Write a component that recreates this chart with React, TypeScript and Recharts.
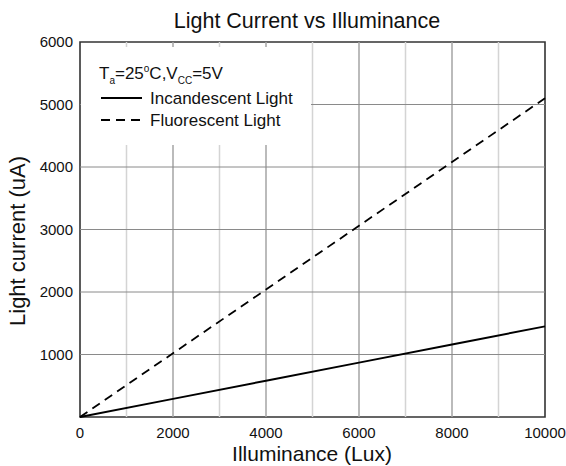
import React from 'react';
import { LineChart, Line, XAxis, YAxis, ReferenceLine, ReferenceArea } from 'recharts';

const illuminance = [0, 2000, 4000, 6000, 8000, 10000];
const incandescent = [0, 290, 580, 870, 1160, 1450];
const fluorescent = [0, 1020, 2040, 3060, 4080, 5100];
const xTicks = [0, 2000, 4000, 6000, 8000, 10000];
const yTicks = [0, 1000, 2000, 3000, 4000, 5000, 6000];
const xGridMajor = [2000, 4000, 6000, 8000];
const xGridMinor = [1000, 3000, 5000, 7000, 9000];
const yGrid = [1000, 2000, 3000, 4000, 5000];

const data = illuminance.map((x, i) => ({ x, inc: incandescent[i], flu: fluorescent[i] }));

const FONT = 'Liberation Sans, Arial, Helvetica, sans-serif';

export default function App() {
  return (
    <div style={{ position: 'absolute', left: 0, top: 0, width: 566, height: 466, background: '#fff' }}>
      <LineChart width={566} height={466} data={data} margin={{ top: 42, right: 21, bottom: 0, left: 0 }}>
        {xGridMinor.map((v) => (
          <ReferenceLine key={'xm' + v} x={v} stroke="#d4d4d4" strokeWidth={1.5} />
        ))}
        {xGridMajor.map((v) => (
          <ReferenceLine key={'xM' + v} x={v} stroke="#a4a4a4" strokeWidth={1.5} />
        ))}
        {yGrid.map((v) => (
          <ReferenceLine key={'y' + v} y={v} stroke="#8a8a8a" strokeWidth={1} />
        ))}
        <XAxis
          dataKey="x"
          type="number"
          domain={[0, 10000]}
          ticks={xTicks}
          height={49}
          axisLine={false}
          tickLine={false}
          tickSize={0}
          tickMargin={10}
          interval={0}
          tick={{ fill: '#111', fontSize: 15, fontFamily: FONT }}
        />
        <YAxis
          type="number"
          domain={[0, 6000]}
          ticks={yTicks}
          width={80}
          axisLine={false}
          tickLine={false}
          tickSize={0}
          tickMargin={7}
          interval={0}
          tickFormatter={(v: number) => (v === 0 ? '' : String(v))}
          tick={{ fill: '#111', fontSize: 15, fontFamily: FONT }}
        />
        <Line dataKey="inc" stroke="#000" strokeWidth={2} dot={false} isAnimationActive={false} />
        <Line dataKey="flu" stroke="#000" strokeWidth={1.8} strokeDasharray="9 6" dot={false} isAnimationActive={false} />
        <ReferenceArea x1={0} x2={10000} y1={0} y2={6000} fill="none" stroke="#333" strokeWidth={1.6} ifOverflow="visible" />
      </LineChart>
      <svg
        width={566}
        height={466}
        style={{ position: 'absolute', left: 0, top: 0, pointerEvents: 'none' }}
        fontFamily={FONT}
      >
        <text x={307} y={28} textAnchor="middle" fontSize={21.5} fill="#111">Light Current vs Illuminance</text>
        <text x={312} y={461} textAnchor="middle" fontSize={21} fill="#111">Illuminance (Lux)</text>
        <text x={25} y={241} textAnchor="middle" fontSize={22} fill="#111" transform="rotate(-90 25 241)">Light current (uA)</text>
        <rect x={81} y={47} width={230} height={98} fill="#fff" />
        <text x={99} y={79} fontSize={17} fill="#111">
          <tspan>T</tspan>
          <tspan fontSize={10} dy={5}>a</tspan>
          <tspan dy={-5}>=25</tspan>
          <tspan fontSize={10} dy={-7}>o</tspan>
          <tspan dy={7}>C,V</tspan>
          <tspan fontSize={10} dy={5}>CC</tspan>
          <tspan dy={-5}>=5V</tspan>
        </text>
        <line x1={101} x2={142} y1={98} y2={98} stroke="#000" strokeWidth={2} />
        <text x={150} y={104} fontSize={17} fill="#111">Incandescent Light</text>
        <line x1={101} x2={142} y1={120} y2={120} stroke="#000" strokeWidth={2} strokeDasharray="9 6" />
        <text x={150} y={126} fontSize={17} fill="#111">Fluorescent Light</text>
      </svg>
    </div>
  );
}
